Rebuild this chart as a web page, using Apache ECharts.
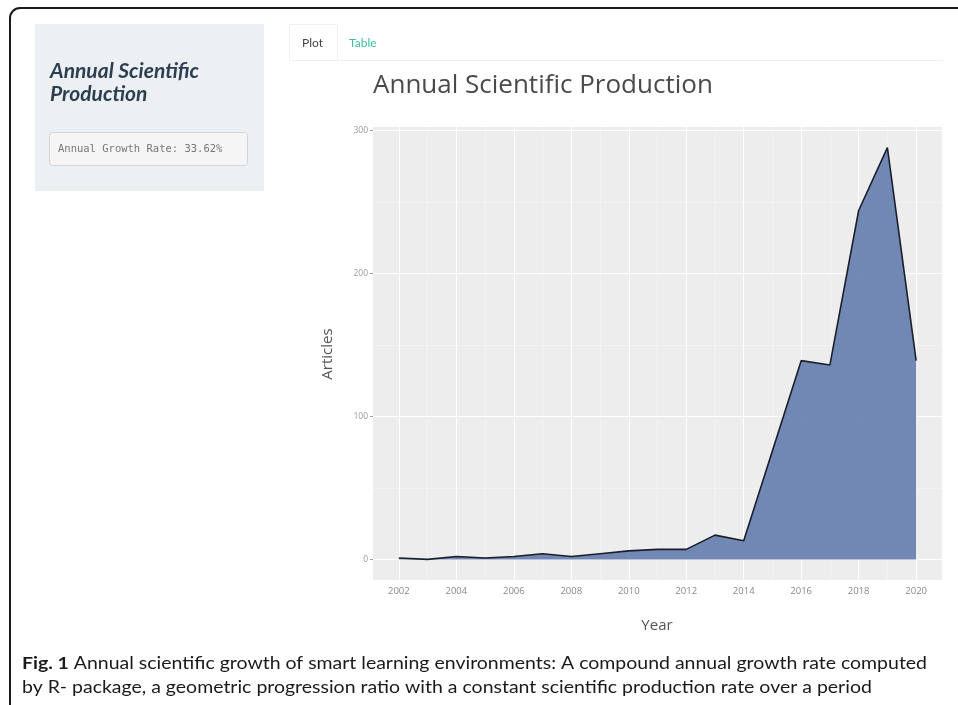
<!DOCTYPE html>
<html><head><meta charset="utf-8">
<script src="https://cdn.jsdelivr.net/npm/echarts@6/dist/echarts.min.js"></script>
<style>html,body{margin:0;padding:0;background:#fff;}#c{width:958px;height:705px;}</style>
</head><body><div id="c"></div>
<script>
// ---- data ----
const years = [2002,2003,2004,2005,2006,2007,2008,2009,2010,2011,2012,2013,2014,2015,2016,2017,2018,2019,2020];
const articles = [1,0,2,1,2,4,2,4,6,7,7,17,13,76,139,136,244,288,139];
const xTicks = [2002,2004,2006,2008,2010,2012,2014,2016,2018,2020];
const xMinor = [2003,2005,2007,2009,2011,2013,2015,2017,2019];
const yTicks = [0,100,200,300];
const yMinor = [50,150,250];
const plotTitle = 'Annual Scientific Production';
const sideTitle = ['Annual Scientific', 'Production'];
const growthText = 'Annual Growth Rate: 33.62%';
const tabs = ['Plot', 'Table'];
const xName = 'Year';
const yName = 'Articles';
const captionBold = 'Fig. 1';
const captionLines = [
  ' Annual scientific growth of smart learning environments: A compound annual growth rate computed',
  'by R- package, a geometric progression ratio with a constant scientific production rate over a period'
];

// ---- caption measuring ----
const capFont = 'Lato';
const capSize = 17;
const cv = document.createElement('canvas').getContext('2d');
cv.font = 'bold ' + capSize + 'px ' + capFont;
const wBold = cv.measureText(captionBold).width;
cv.font = capSize + 'px ' + capFont;
const wRest = cv.measureText(captionLines[0]).width;
const capScale = 905 / (wBold + wRest);

const chart = echarts.init(document.getElementById('c'), null, {renderer: 'canvas'});
const series = years.map((y, i) => [y, articles[i]]);

const option = {
  animation: false,
  backgroundColor: '#ffffff',
  grid: {left: 373, top: 127, width: 569, height: 453, show: true, backgroundColor: '#EDEDED', borderWidth: 0},
  xAxis: {
    type: 'value', min: 2001.1, max: 2020.9,
    axisLine: {show: false},
    splitLine: {show: false},
    axisTick: {show: true, length: 3, customValues: xTicks, lineStyle: {color: '#999'}},
    axisLabel: {customValues: xTicks, fontSize: 9.5, color: '#888', margin: 6, fontFamily: 'Open Sans', formatter: v => String(v)}
  },
  yAxis: {
    type: 'value', min: -14.4, max: 302.4,
    axisLine: {show: false},
    splitLine: {show: false},
    axisTick: {show: true, length: 3, customValues: yTicks, lineStyle: {color: '#999'}},
    axisLabel: {customValues: yTicks, fontSize: 8.5, color: '#999', margin: 5, fontFamily: 'Open Sans', formatter: v => String(v)}
  },
  series: [
    {
      type: 'line', data: series, symbol: 'none', silent: true, z: 1,
      lineStyle: {opacity: 0},
      markLine: {
        silent: true, symbol: 'none', z: 1, animation: false,
        label: {show: false},
        emphasis: {disabled: true},
        data: [
          ...xTicks.map(v => ({xAxis: v, lineStyle: {color: '#ffffff', width: 1.1, type: 'solid'}})),
          ...xMinor.map(v => ({xAxis: v, lineStyle: {color: 'rgba(255,255,255,0.55)', width: 0.6, type: 'solid'}})),
          ...yTicks.map(v => ({yAxis: v, lineStyle: {color: '#ffffff', width: 1.1, type: 'solid'}})),
          ...yMinor.map(v => ({yAxis: v, lineStyle: {color: 'rgba(255,255,255,0.55)', width: 0.6, type: 'solid'}}))
        ]
      }
    },
    {
      type: 'line', data: series, symbol: 'none', z: 3,
      lineStyle: {color: '#1b1f2a', width: 1.6},
      areaStyle: {color: 'rgb(102,127,176)', opacity: 0.92}
    }
  ],
  graphic: [
    // outer frame
    {type: 'rect', z: 100, shape: {x: 10, y: 8, width: 1000, height: 1000, r: 10}, style: {fill: 'none', stroke: '#1a1a1a', lineWidth: 2}},
    // sidebar
    {type: 'rect', shape: {x: 35, y: 24, width: 229, height: 167}, style: {fill: '#ECF0F3'}},
    {type: 'text', x: 50, y: 71, style: {text: sideTitle[0], font: 'italic bold 21px Lato', fill: '#2C3E50', textVerticalAlign: 'middle'}},
    {type: 'text', x: 50, y: 94, style: {text: sideTitle[1], font: 'italic bold 21px Lato', fill: '#2C3E50', textVerticalAlign: 'middle'}},
    {type: 'rect', shape: {x: 49.5, y: 132.5, width: 198, height: 33, r: 3}, style: {fill: '#F5F5F5', stroke: '#D4D4D4', lineWidth: 1}},
    {type: 'text', x: 58, y: 149, style: {text: growthText, font: '10.5px "DejaVu Sans Mono"', fill: '#777', textVerticalAlign: 'middle'}},
    // tabs
    {type: 'rect', shape: {x: 289.5, y: 24.5, width: 48, height: 36}, style: {fill: '#fff', stroke: '#F0F0F0', lineWidth: 1}},
    {type: 'line', shape: {x1: 337, y1: 60.5, x2: 943, y2: 60.5}, style: {stroke: '#F0F0F0', lineWidth: 1}},
    {type: 'text', x: 302, y: 43, style: {text: tabs[0], font: '12px Lato', fill: '#444', textVerticalAlign: 'middle'}},
    {type: 'text', x: 349, y: 43, style: {text: tabs[1], font: '12px Lato', fill: '#3FBF9A', textVerticalAlign: 'middle'}},
    // plot title
    {type: 'text', x: 373, y: 86, style: {text: plotTitle, font: '26px "Open Sans"', fill: '#4a4a4a', textVerticalAlign: 'middle'}},
    // axis names
    {type: 'text', x: 328, y: 354, rotation: Math.PI / 2, style: {text: yName, font: '15px "Open Sans"', fill: '#555', textAlign: 'center', textVerticalAlign: 'middle'}},
    {type: 'text', x: 657, y: 626, style: {text: xName, font: '15px "Open Sans"', fill: '#555', textAlign: 'center', textVerticalAlign: 'middle'}},
    // caption
    {type: 'group', x: 22, y: 0, scaleX: capScale, children: [
      {type: 'text', x: 0, y: 664, style: {text: captionBold, font: 'bold ' + capSize + 'px ' + capFont, fill: '#1a1a1a', textVerticalAlign: 'middle'}},
      {type: 'text', x: wBold, y: 664, style: {text: captionLines[0], font: capSize + 'px ' + capFont, fill: '#1a1a1a', textVerticalAlign: 'middle'}},
      {type: 'text', x: 0, y: 688, style: {text: captionLines[1], font: capSize + 'px ' + capFont, fill: '#1a1a1a', textVerticalAlign: 'middle'}}
    ]}
  ]
};
chart.setOption(option);
</script>
</body></html>
